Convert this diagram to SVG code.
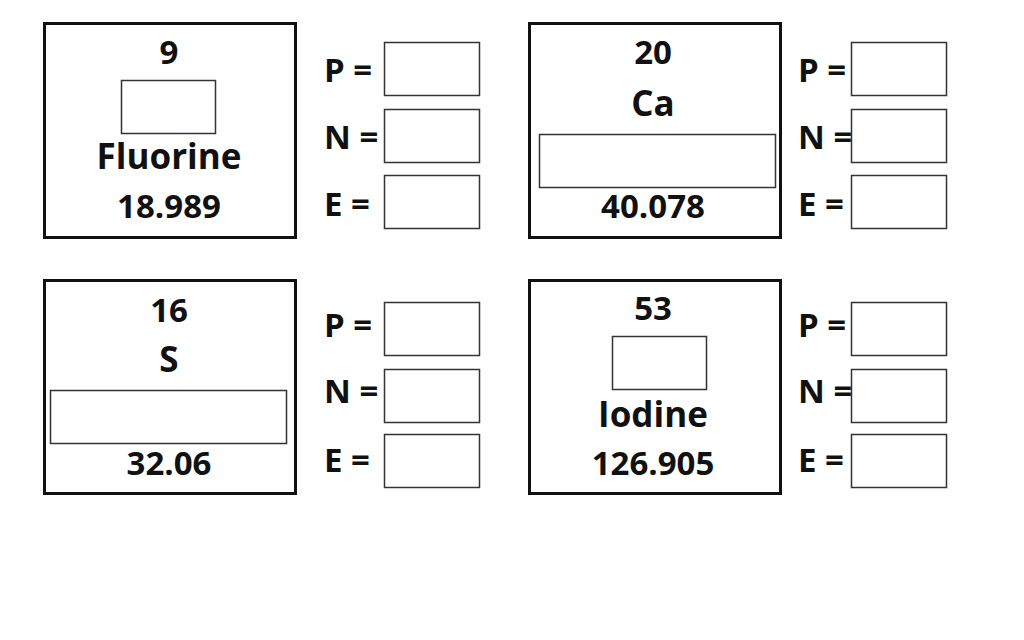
<svg xmlns="http://www.w3.org/2000/svg" width="1024" height="640" viewBox="0 0 1024 640">
<style>
.card{fill:#fff;stroke:#111;stroke-width:3}
.blank{fill:#fff;stroke:#333;stroke-width:1.5}
.num{font-family:"Open Sans","Liberation Sans",sans-serif;font-weight:750;font-size:33px;fill:#111;text-anchor:middle}
.name{font-family:"Open Sans","Liberation Sans",sans-serif;font-weight:750;font-size:35px;fill:#111;text-anchor:middle}
.lbl{font-family:"Open Sans","Liberation Sans",sans-serif;font-weight:750;font-size:33px;fill:#111}
</style>
<rect width="1024" height="640" fill="#fff"/>
<g id="fluorine">
<rect class="card" x="44.5" y="23.5" width="251" height="214"/>
<text class="num" x="169" y="64">9</text>
<rect class="blank" x="121.5" y="80.5" width="94" height="53"/>
<text class="name" x="169" y="169">Fluorine</text>
<text class="num" x="169" y="218">18.989</text>
</g>
<g id="fluorine-pne">
<text class="lbl" x="324" y="82">P =</text>
<rect class="blank" x="384.5" y="42.5" width="95" height="53"/>
<text class="lbl" x="324" y="149">N =</text>
<rect class="blank" x="384.5" y="109.5" width="95" height="53"/>
<text class="lbl" x="324" y="216">E =</text>
<rect class="blank" x="384.5" y="175.5" width="95" height="53"/>
</g>
<g id="calcium">
<rect class="card" x="529.5" y="23.5" width="251" height="214"/>
<text class="num" x="653" y="64">20</text>
<text class="name" x="653" y="116">Ca</text>
<rect class="blank" x="539.5" y="134.5" width="236" height="53"/>
<text class="num" x="653" y="218">40.078</text>
</g>
<g id="calcium-pne">
<text class="lbl" x="798" y="82">P =</text>
<rect class="blank" x="851.5" y="42.5" width="95" height="53"/>
<text class="lbl" x="798" y="149">N =</text>
<rect class="blank" x="851.5" y="109.5" width="95" height="53"/>
<text class="lbl" x="798" y="216">E =</text>
<rect class="blank" x="851.5" y="175.5" width="95" height="53"/>
</g>
<g id="sulfur">
<rect class="card" x="44.5" y="280.5" width="251" height="213"/>
<text class="num" x="169" y="322">16</text>
<text class="name" x="169" y="372">S</text>
<rect class="blank" x="50.5" y="390.5" width="236" height="53"/>
<text class="num" x="169" y="475">32.06</text>
</g>
<g id="sulfur-pne">
<text class="lbl" x="324" y="337">P =</text>
<rect class="blank" x="384.5" y="302.5" width="95" height="53"/>
<text class="lbl" x="324" y="403">N =</text>
<rect class="blank" x="384.5" y="369.5" width="95" height="53"/>
<text class="lbl" x="324" y="472">E =</text>
<rect class="blank" x="384.5" y="434.5" width="95" height="53"/>
</g>
<g id="iodine">
<rect class="card" x="529.5" y="280.5" width="251" height="213"/>
<text class="num" x="653" y="320">53</text>
<rect class="blank" x="612.5" y="336.5" width="94" height="53"/>
<text class="name" x="653" y="427">Iodine</text>
<text class="num" x="653" y="475">126.905</text>
</g>
<g id="iodine-pne">
<text class="lbl" x="798" y="337">P =</text>
<rect class="blank" x="851.5" y="302.5" width="95" height="53"/>
<text class="lbl" x="798" y="403">N =</text>
<rect class="blank" x="851.5" y="369.5" width="95" height="53"/>
<text class="lbl" x="798" y="472">E =</text>
<rect class="blank" x="851.5" y="434.5" width="95" height="53"/>
</g>
<g id="connectors"></g>
</svg>
